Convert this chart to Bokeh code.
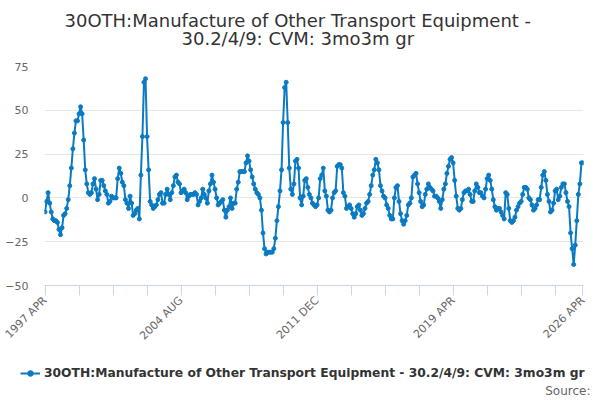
import math
from bokeh.plotting import figure
from bokeh.models import FixedTicker, Legend, LegendItem, Range1d, ColumnDataSource, Title, Label
from bokeh.embed import file_html
from bokeh.resources import INLINE

# ---- data -------------------------------------------------------------
series_name = "30OTH:Manufacture of Other Transport Equipment - 30.2/4/9: CVM: 3mo3m gr"
title_lines = ["30OTH:Manufacture of Other Transport Equipment -", "30.2/4/9: CVM: 3mo3m gr"]
source_text = "Source:"
start_year = 1997
start_month = 4
month_names = ["JAN", "FEB", "MAR", "APR", "MAY", "JUN", "JUL", "AUG", "SEP", "OCT", "NOV", "DEC"]

values_1997_2001 = [-8, -2, 3, -3, -8, -12, -13, -13, -14, -18, -21, -17, -10, -9, -6, -1,
                    7, 17, 28, 37, 44, 44, 48, 52, 48, 33, 16, 8, 3, 2, 3, 8,
                    11, 5, -1, 2, 10, 10, 7, 4, 2, -3, -2, 1, 0, 0, 0, 11]
values_2001_2005 = [17, 14, 9, 7, -1, -3, -6, 1, -3, -10, -9, -7, -6, -12, 13, 35,
                    66, 68, 35, 16, -2, -4, -6, -5, -4, -1, 2, 3, -3, -3, 2, 5,
                    2, -1, 3, 7, 12, 13, 9, 8, 3, 4, 5, 3, -1, 1, 2, 2, 2]
values_2005_2009 = [3, 2, -4, -2, 0, 5, 2, 0, -3, 4, 8, 13, 9, 5, 0, -4,
                    -3, -2, -1, -7, -11, -7, -5, 0, -6, -3, -3, 5, 9, 15, 15, 15,
                    15, 20, 24, 21, 16, 12, 8, 5, 3, 2, 0, -7, -20, -29, -32, -31,
                    -31, -31, -31, -29]
values_2009_2013 = [-23, -13, -5, 4, 16, 43, 63, 66, 43, 17, 5, 2, 8, 21, 22, 17,
                    0, -4, 1, 10, 11, 6, 2, 0, -3, -4, -5, -4, 0, 11, 13, 17,
                    4, 1, -7, -8, -7, 0, 3, 4, 18, 19, 19, 17, 3, 1, -6, -5, -4]
values_2013_2017 = [-6, -9, -11, -9, -5, -4, -7, -10, -9, -6, -3, -2, 2, 7, 13, 16,
                    22, 20, 16, 7, 4, 1, 0, -4, -6, -10, -12, -12, 0, 6, 7, -2,
                    -9, -13, -15, -13, -10, -4, -3, 0, 12, 13, 14, 8, 3, -2, -5, -4,
                    2, 5, 8]
values_2017_2021 = [6, 5, 4, 1, 1, 0, -2, -6, -1, 5, 8, 14, 18, 22, 23, 20,
                    10, 1, -6, -7, -6, -1, 3, 4, 4, 5, 2, -2, -2, 4, 8, 6,
                    3, 3, 1, 0, 5, 11, 13, 10, 5, -1, -5, -7, -6, -6, -8, -10, -12]
values_2021_2026 = [3, 2, -6, -13, -14, -13, -11, -7, -5, -3, -2, 2, 6, 6, 5, 0,
                    -1, -4, -7, -6, -4, -1, -1, 6, 13, 15, 10, 2, -2, -8, -7, -3,
                    4, 5, -1, 1, 6, 8, 8, 3, -2, -5, -20, -29, -38, -27, -13, 2,
                    8, 20, 20]

values = (values_1997_2001 + values_2001_2005 + values_2005_2009 + values_2009_2013
          + values_2013_2017 + values_2017_2021 + values_2021_2026)

categories = []
for i in range(len(values)):
    mi = start_month - 1 + i
    categories.append(f"{start_year + mi // 12} {month_names[mi % 12]}")

y_ticks = [-50, -25, 0, 25, 50, 75]
tick_step = 22
label_step = 88

# ---- main chart -------------------------------------------------------
n = len(values)
x = list(range(n))
src = ColumnDataSource(dict(x=x, y=values, cat=categories))

line_color = "#0a7bc2"

p = figure(width=592, height=350, output_backend="svg", toolbar_location=None,
           x_range=Range1d(-0.35, n - 1 + 0.35), y_range=Range1d(-50, 75),
           min_border_left=44, min_border_right=9, min_border_top=66, min_border_bottom=59)
p.outline_line_color = None
p.background_fill_color = "white"
p.border_fill_color = "white"

lr = p.line("x", "y", source=src, line_color=line_color, line_width=2)
sr = p.scatter("x", "y", source=src, size=4, fill_color=line_color, line_color=line_color)

# x axis
xt = list(range(0, n, tick_step))
if xt[-1] != n - 1:
    xt.append(n - 1)
p.xaxis.ticker = FixedTicker(ticks=xt)
overrides = {}
for t in xt:
    overrides[t] = categories[t] if (t % label_step == 0 or t == n - 1) else ""
p.xaxis.major_label_overrides = overrides
p.xaxis.major_label_orientation = math.pi / 4
p.xaxis.axis_line_color = "#ccd6eb"
p.xaxis.major_tick_line_color = "#ccd6eb"
p.xaxis.major_tick_out = 10
p.xaxis.major_tick_in = 0
p.xaxis.minor_tick_line_color = None
p.xaxis.major_label_text_font = "DejaVu Sans"
p.xaxis.major_label_text_font_size = "11px"
p.xaxis.major_label_text_color = "#666666"
p.xaxis.major_label_standoff = 3
p.xgrid.grid_line_color = None

# y axis
p.yaxis.ticker = FixedTicker(ticks=y_ticks)
p.yaxis.axis_line_color = None
p.yaxis.major_tick_line_color = None
p.yaxis.minor_tick_line_color = None
p.yaxis.major_tick_out = 0
p.yaxis.major_tick_in = 0
p.yaxis.major_label_standoff = 16
p.yaxis.major_label_text_font = "DejaVu Sans"
p.yaxis.major_label_text_font_size = "11px"
p.yaxis.major_label_text_color = "#666666"
p.ygrid.grid_line_color = "#e6e6e6"
p.ygrid.ticker = FixedTicker(ticks=y_ticks)

# title: spacer nearest the frame, then line 2, then line 1
title_style = dict(text_font="DejaVu Sans", text_font_size="18px", text_font_style="normal",
                   text_color="#333333")
p.add_layout(Title(text=" ", align="left", offset=0, standoff=-5.5, **title_style), "above")
p.add_layout(Title(text=title_lines[1], align="left", offset=137, standoff=0, **title_style), "above")
p.add_layout(Title(text=title_lines[0], align="left", offset=20, standoff=-10, **title_style), "above")

# ---- legend strip (separate root so its frame spans the full width) ---
q = figure(width=592, height=48, output_backend="svg", toolbar_location=None,
           x_axis_type=None, y_axis_type=None,
           x_range=Range1d(n + 10, n + 11), y_range=Range1d(0, 1),
           min_border_left=0, min_border_right=0, min_border_top=0, min_border_bottom=0)
q.outline_line_color = None
q.xgrid.grid_line_color = None
q.ygrid.grid_line_color = None
q.background_fill_color = "white"
q.border_fill_color = "white"

kl = q.line("x", "y", source=src, line_color=line_color, line_width=2)
ks = q.scatter("x", "y", source=src, size=4, fill_color=line_color, line_color=line_color)

legend = Legend(items=[LegendItem(label=series_name, renderers=[kl, ks], index=0)],
                location=(20, 18), orientation="horizontal",
                border_line_color=None, background_fill_alpha=0,
                padding=0, margin=0, glyph_width=20, glyph_height=14, label_standoff=4,
                label_text_font="DejaVu Sans", label_text_font_style="bold",
                label_text_font_size="12.3px", label_text_color="#333333")
q.add_layout(legend)

q.add_layout(Label(x=590, y=8, x_units="screen", y_units="screen", text=source_text,
                   text_align="right", text_baseline="middle",
                   text_font="DejaVu Sans", text_font_size="12px", text_color="#666666"))

open("out.html", "w").write(file_html([p, q], INLINE))
